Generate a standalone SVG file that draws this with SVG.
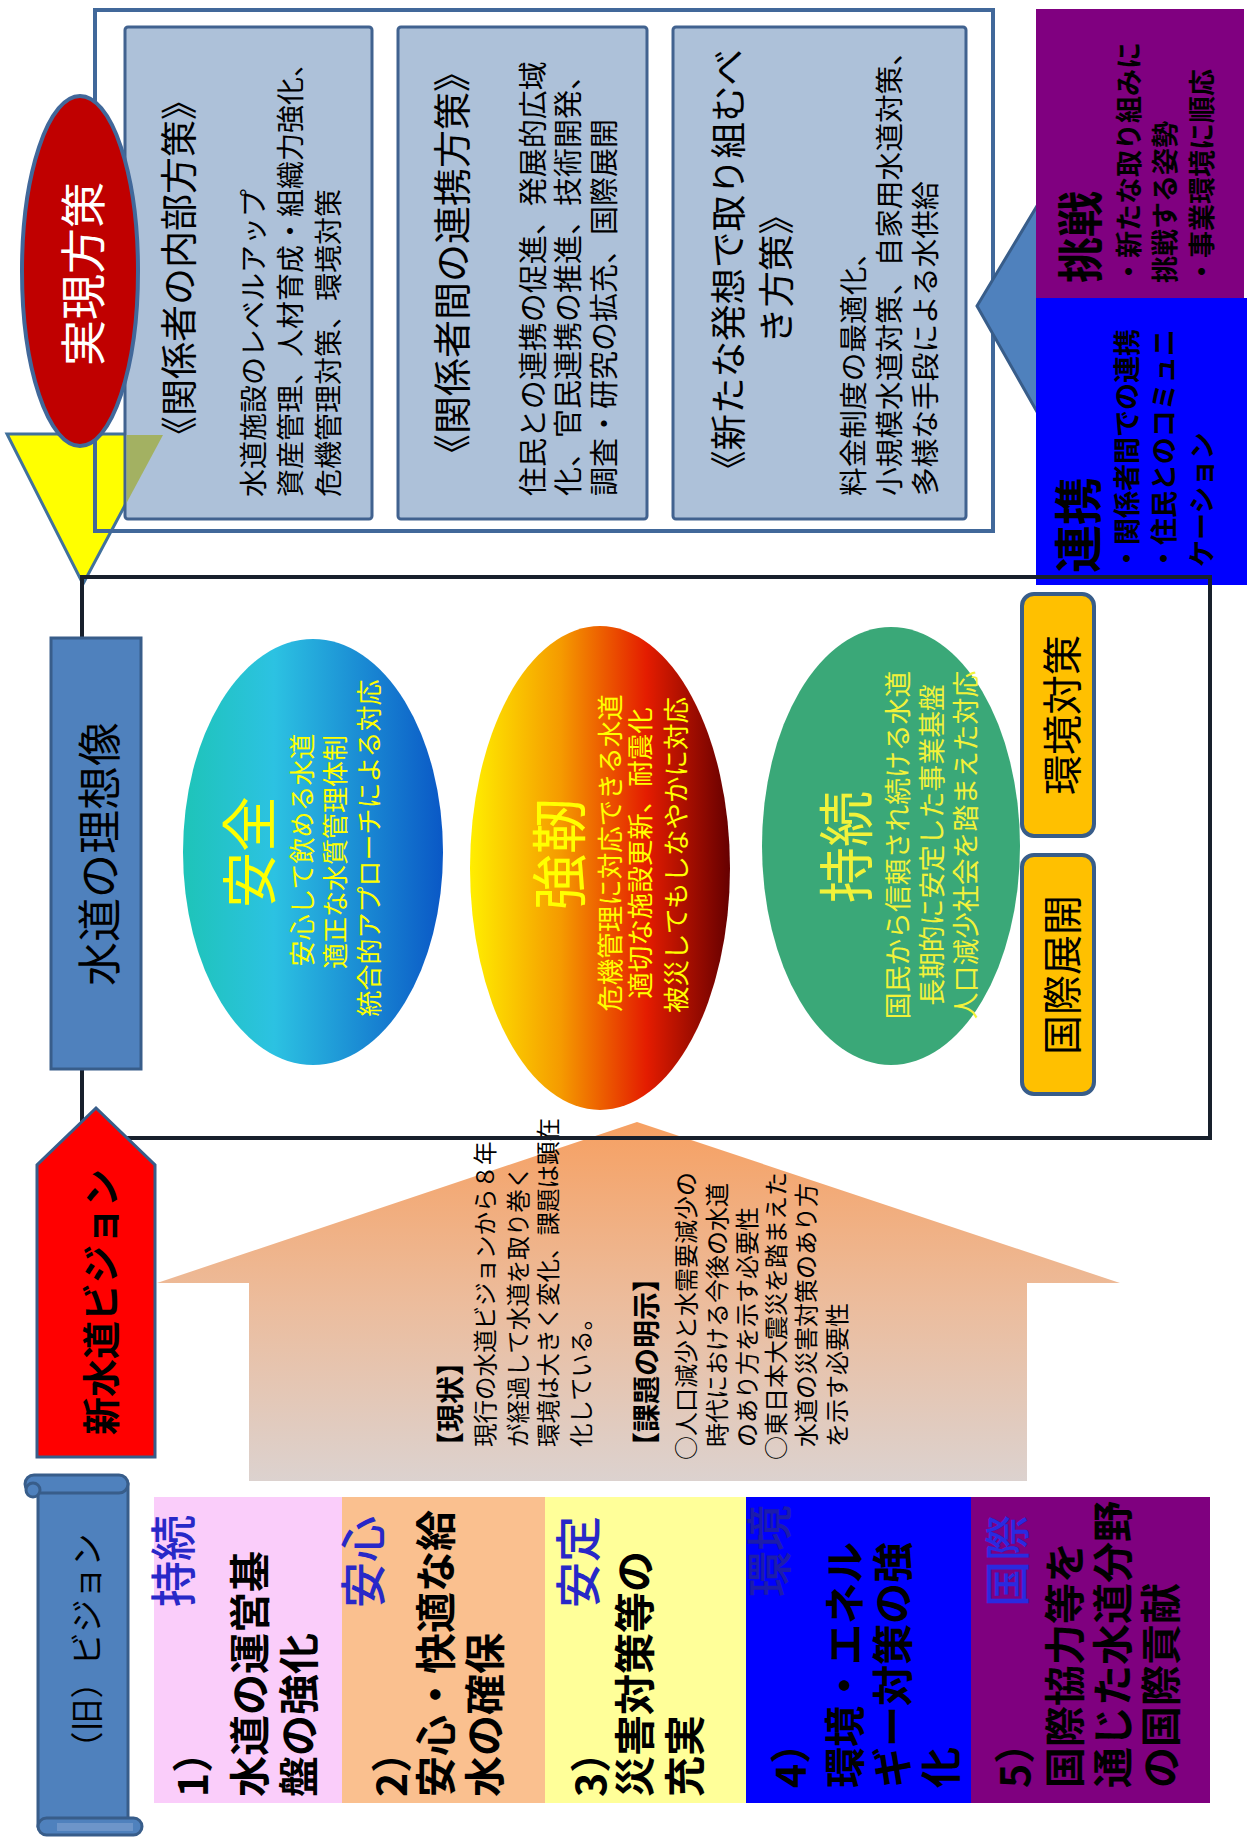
<svg xmlns="http://www.w3.org/2000/svg" width="1247" height="1843" viewBox="0 0 1247 1843">
<defs>
<style>
text{font-family:"Noto Sans CJK JP","Noto Sans",sans-serif;dominant-baseline:central;}
.m{text-anchor:middle;}
.b{font-weight:bold;}
.k{fill:#000;}
.y{fill:#ffff00;}
.box{fill:#adc1d9;stroke:#41628f;stroke-width:3;}
.sb{fill:#4f81bd;stroke:#385d8a;stroke-width:3;}
.gold{fill:#ffc000;stroke:#385d8a;stroke-width:4;}
.lab{fill:#2828c8;font-weight:500;font-size:46px;}
.ov{font-weight:bold;font-size:41px;fill:#000;}
</style>
<linearGradient id="gAnzen" x1="0" y1="0" x2="1" y2="0">
<stop offset="0" stop-color="#1ec4b8"/>
<stop offset="0.35" stop-color="#2cc2e2"/>
<stop offset="1" stop-color="#0a58c6"/>
</linearGradient>
<linearGradient id="gKyoujin" x1="0" y1="0" x2="1" y2="0">
<stop offset="0" stop-color="#ffee00"/>
<stop offset="0.35" stop-color="#f59a00"/>
<stop offset="0.68" stop-color="#e41c00"/>
<stop offset="1" stop-color="#660000"/>
</linearGradient>
<linearGradient id="gHouse" x1="0" y1="0" x2="0" y2="1">
<stop offset="0" stop-color="#f6a062"/>
<stop offset="0.5" stop-color="#ecbc9c"/>
<stop offset="1" stop-color="#dcd2cf"/>
</linearGradient>
</defs>

<g id="house-arrow">
<polygon points="157,1283 637,1122 1120,1283 1027,1283 1027,1481 249,1481 249,1283" fill="url(#gHouse)"/>
<text class="k b" font-size="28" transform="translate(449 1460) rotate(-90)">【現状】</text>
<text class="k" font-size="23.5" transform="translate(484 1447) rotate(-90)">現行の水道ビジョンから８年</text>
<text class="k" font-size="23.5" transform="translate(517 1447) rotate(-90)">が経過して水道を取り巻く</text>
<text class="k" font-size="23.5" transform="translate(547 1447) rotate(-90)">環境は大きく変化、課題は顕在</text>
<text class="k" font-size="23.5" transform="translate(580 1447) rotate(-90)">化している。</text>
<text class="k b" font-size="28" transform="translate(645 1460) rotate(-90)">【課題の明示】</text>
<text class="k" font-size="24" transform="translate(684 1460) rotate(-90)">○人口減少と水需要減少の</text>
<text class="k" font-size="24" transform="translate(715 1447) rotate(-90)">時代における今後の水道</text>
<text class="k" font-size="24" transform="translate(745 1447) rotate(-90)">のあり方を示す必要性</text>
<text class="k" font-size="24" transform="translate(774 1460) rotate(-90)">○東日本大震災を踏まえた</text>
<text class="k" font-size="24" transform="translate(804 1447) rotate(-90)">水道の災害対策のあり方</text>
<text class="k" font-size="24" transform="translate(835 1447) rotate(-90)">を示す必要性</text>
</g>

<g id="connectors">
<polygon id="arrow-yellow" points="7,434 163,434 83,584" fill="#ffff00" stroke="#41719c" stroke-width="3"/>
<rect id="frame-realization" x="95" y="10" width="898" height="521" fill="none" stroke="#41689a" stroke-width="4"/>
</g>

<g id="box-internal">
<rect class="box" x="125" y="27" width="247" height="492" rx="3"/>
<polygon points="126.5,435 163,435 126.5,503" fill="#a2b05c" opacity="0.95"/>
<text class="k m" font-size="37" transform="translate(177 268) rotate(-90)">《関係者の内部方策》</text>
<text class="k" font-size="28" transform="translate(252 497) rotate(-90)">水道施設のレベルアップ</text>
<text class="k" font-size="28" transform="translate(289 497) rotate(-90)">資産管理、人材育成・組織力強化、</text>
<text class="k" font-size="28" transform="translate(327 497) rotate(-90)">危機管理対策、環境対策</text>
</g>

<g id="box-cooperation">
<rect class="box" x="398" y="27" width="249" height="492" rx="3"/>
<text class="k m" font-size="38" transform="translate(449 263) rotate(-90)">《関係者間の連携方策》</text>
<text class="k" font-size="29" transform="translate(531 496) rotate(-90)">住民との連携の促進、発展的広域</text>
<text class="k" font-size="29" transform="translate(566 496) rotate(-90)">化、官民連携の推進、技術開発、</text>
<text class="k" font-size="29" transform="translate(602 496) rotate(-90)">調査・研究の拡充、国際展開</text>
</g>

<g id="box-new-ideas">
<rect class="box" x="673" y="27" width="293" height="492" rx="3"/>
<text class="k m" font-size="36.5" transform="translate(726 268) rotate(-90)">《新たな発想で取り組むべ</text>
<text class="k m" font-size="36.5" transform="translate(774 271) rotate(-90)">き方策》</text>
<text class="k" font-size="28.7" transform="translate(851 496) rotate(-90)">料金制度の最適化、</text>
<text class="k" font-size="28.7" transform="translate(887 496) rotate(-90)">小規模水道対策、自家用水道対策、</text>
<text class="k" font-size="28.7" transform="translate(923 496) rotate(-90)">多様な手段による水供給</text>
</g>

<g id="node-realization">
<ellipse cx="80" cy="271" rx="58" ry="175" fill="#c00000" stroke="#41689a" stroke-width="4"/>
<text class="m" font-size="46" fill="#fff" transform="translate(80 274) rotate(-90)">実現方策</text>
</g>

<g id="connector-left-arrow">
<polygon points="977,306 1040,201 1040,417" class="sb"/>
</g>

<g id="node-challenge">
<rect x="1036" y="9" width="208" height="291" fill="#800080"/>
<text class="k b" font-size="46" transform="translate(1077 283) rotate(-90)">挑戦</text>
<text class="k b" font-size="27" transform="translate(1127 285) rotate(-90)">・新たな取り組みに</text>
<text class="k b" font-size="27" transform="translate(1163 283) rotate(-90)">挑戦する姿勢</text>
<text class="k b" font-size="27" transform="translate(1200 285) rotate(-90)">・事業環境に順応</text>
</g>

<g id="node-cooperation">
<rect x="1036" y="298" width="211" height="287" fill="#0000ff"/>
<text class="k b" font-size="48" transform="translate(1075 573) rotate(-90)">連携</text>
<text class="k b" font-size="27" transform="translate(1125 572) rotate(-90)">・関係者間での連携</text>
<text class="k b" font-size="27" transform="translate(1162 572) rotate(-90)">・住民とのコミュニ</text>
<text class="k b" font-size="27" transform="translate(1200 567) rotate(-90)">ケーション</text>
</g>

<g id="frame-ideal">
<path d="M82,577 H1210 V1138 H82 Z" fill="none" stroke="#18202c" stroke-width="4"/>
</g>

<g id="node-ideal">
<rect class="sb" x="51" y="638" width="90" height="431"/>
<text class="k m" font-size="44" transform="translate(97 854) rotate(-90)">水道の理想像</text>
</g>

<g id="node-anzen">
<ellipse cx="313" cy="852" rx="130" ry="213" fill="url(#gAnzen)"/>
<text class="y m" font-size="56" transform="translate(245 852) rotate(-90)">安全</text>
<text class="y m" font-size="26" transform="translate(300 850) rotate(-90)">安心して飲める水道</text>
<text class="y m" font-size="26" transform="translate(333 852) rotate(-90)">適正な水質管理体制</text>
<text class="y m" font-size="26" transform="translate(367 848) rotate(-90)">統合的アプローチによる対応</text>
</g>

<g id="node-kyoujin">
<ellipse cx="600" cy="868" rx="130" ry="242" fill="url(#gKyoujin)"/>
<text class="y m" font-size="56" transform="translate(555 854) rotate(-90)">強靭</text>
<text class="y m" font-size="26.5" transform="translate(608 853) rotate(-90)">危機管理に対応できる水道</text>
<text class="y m" font-size="26.5" transform="translate(638 853) rotate(-90)">適切な施設更新、耐震化</text>
<text class="y m" font-size="26.5" transform="translate(674 855) rotate(-90)">被災してもしなやかに対応</text>
</g>

<g id="node-jizoku">
<ellipse cx="891" cy="846" rx="129" ry="219" fill="#3aa878"/>
<text class="m" fill="#f2f23a" font-size="56" transform="translate(842 847) rotate(-90)">持続</text>
<text class="m" fill="#f2f23a" font-size="26.8" transform="translate(896 845) rotate(-90)">国民から信頼され続ける水道</text>
<text class="m" fill="#f2f23a" font-size="26.8" transform="translate(930 845) rotate(-90)">長期的に安定した事業基盤</text>
<text class="m" fill="#f2f23a" font-size="26.8" transform="translate(964 845) rotate(-90)">人口減少社会を踏まえた対応</text>
</g>

<g id="node-environment">
<rect class="gold" x="1022" y="594" width="72" height="242" rx="12"/>
<text class="k m" font-size="40" transform="translate(1060 715) rotate(-90)">環境対策</text>
</g>

<g id="node-international">
<rect class="gold" x="1022" y="855" width="72" height="239" rx="12"/>
<text class="k m" font-size="40" transform="translate(1060 975) rotate(-90)">国際展開</text>
</g>

<g id="node-new-vision">
<polygon points="37,1457 37,1165 96,1108 155,1165 155,1457" fill="#ff0000" stroke="#385d8a" stroke-width="3"/>
<text class="k m b" font-size="38" transform="translate(98 1302) rotate(-90)">新水道ビジョン</text>
</g>

<g id="node-old-vision">
<rect class="sb" x="38" y="1484" width="90" height="342"/>
<rect class="sb" x="25" y="1475" width="103" height="18" rx="9"/>
<circle cx="33" cy="1490" r="7" class="sb"/>
<rect class="sb" x="38" y="1818" width="104" height="17" rx="8.5"/>
<rect x="57" y="1823" width="76" height="8" fill="#6d95c9"/>
<text class="k m" font-size="33" transform="translate(85 1649) rotate(-90)">（旧）ビジョン</text>
</g>

<g id="old-1">
<rect x="154" y="1497" width="188" height="306" fill="#facdfa"/>
<text class="lab" transform="translate(170 1607) rotate(-90)">持続</text>
<text class="ov" transform="translate(190 1797) rotate(-90)">1）</text>
<text class="ov" transform="translate(247 1797) rotate(-90)">水道の運営基</text>
<text class="ov" transform="translate(296 1797) rotate(-90)">盤の強化</text>
</g>

<g id="old-2">
<rect x="342" y="1497" width="203" height="306" fill="#fac08f"/>
<text class="lab" transform="translate(360 1608) rotate(-90)">安心</text>
<text class="ov" transform="translate(389 1797) rotate(-90)">2）</text>
<text class="ov" transform="translate(433 1797) rotate(-90)">安心・快適な給</text>
<text class="ov" transform="translate(482 1797) rotate(-90)">水の確保</text>
</g>

<g id="old-3">
<rect x="545" y="1497" width="201" height="306" fill="#ffff99"/>
<text class="lab" transform="translate(575 1608) rotate(-90)">安定</text>
<text class="ov" transform="translate(588 1797) rotate(-90)">3）</text>
<text class="ov" transform="translate(632 1797) rotate(-90)">災害対策等の</text>
<text class="ov" transform="translate(682 1797) rotate(-90)">充実</text>
</g>

<g id="old-4">
<rect x="746" y="1497" width="225" height="306" fill="#0000ff"/>
<text class="lab" style="fill:#1c1caa" transform="translate(766 1597) rotate(-90)">環境</text>
<text class="ov" transform="translate(788 1788) rotate(-90)">4）</text>
<text class="ov" transform="translate(842 1788) rotate(-90)">環境・エネル</text>
<text class="ov" transform="translate(890 1788) rotate(-90)">ギー対策の強</text>
<text class="ov" transform="translate(938 1788) rotate(-90)">化</text>
</g>

<g id="old-5">
<rect x="971" y="1497" width="239" height="306" fill="#7f007f"/>
<text class="lab" style="fill:#2a2ae0" transform="translate(1004 1607) rotate(-90)">国際</text>
<text class="ov" transform="translate(1012 1788) rotate(-90)">5）</text>
<text class="ov" transform="translate(1062 1788) rotate(-90)">国際協力等を</text>
<text class="ov" transform="translate(1110 1788) rotate(-90)">通じた水道分野</text>
<text class="ov" transform="translate(1158 1788) rotate(-90)">の国際貢献</text>
</g>
</svg>
